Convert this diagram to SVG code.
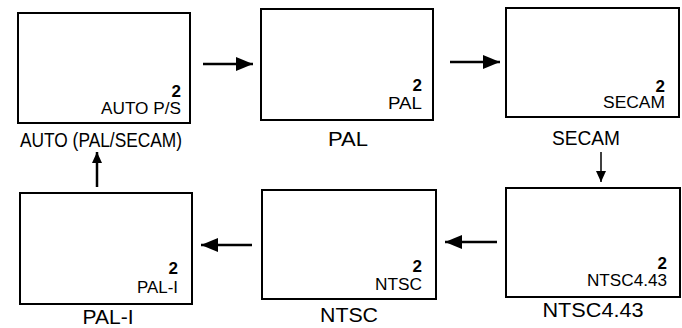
<svg xmlns="http://www.w3.org/2000/svg" width="682" height="328" viewBox="0 0 682 328">
<style>
.box{fill:#fff;stroke:#000;stroke-width:2}
.big{font-family:"Liberation Sans",Arial,sans-serif;font-size:20px;fill:#000;text-anchor:middle}
.num{font-family:"Liberation Sans",Arial,sans-serif;font-size:17px;font-weight:bold;fill:#000;text-anchor:end}
.sm{font-family:"Liberation Sans",Arial,sans-serif;font-size:16px;fill:#000;text-anchor:end}
.ln{stroke:#000;stroke-width:2.5;fill:none}
.thin{stroke:#000;stroke-width:1.5;fill:none}
</style>
<defs>
<marker id="ah" markerUnits="userSpaceOnUse" markerWidth="18" markerHeight="14" refX="17" refY="7" orient="auto"><path d="M0,0 L17,7 L0,14 Z" fill="#000"/></marker>
<marker id="ahs" markerUnits="userSpaceOnUse" markerWidth="12" markerHeight="10" refX="11" refY="5" orient="auto"><path d="M0,0 L11,5 L0,10 Z" fill="#000"/></marker>
</defs>
<rect width="682" height="328" fill="#fff"/>
<g id="auto">
<rect class="box" x="18" y="13" width="172" height="110"/>
<text class="num" x="181" y="97">2</text>
<text class="sm" x="181" y="114" textLength="80" lengthAdjust="spacingAndGlyphs">AUTO P/S</text>
<text class="big" x="101" y="147" textLength="162" lengthAdjust="spacingAndGlyphs">AUTO (PAL/SECAM)</text>
</g>
<g id="pal">
<rect class="box" x="261" y="9" width="172" height="111"/>
<text class="num" x="422" y="91">2</text>
<text class="sm" x="422" y="109" textLength="34" lengthAdjust="spacingAndGlyphs">PAL</text>
<text class="big" x="348" y="146" textLength="40" lengthAdjust="spacingAndGlyphs">PAL</text>
</g>
<g id="secam">
<rect class="box" x="506" y="8" width="173" height="109"/>
<text class="num" x="665" y="92">2</text>
<text class="sm" x="665" y="108" textLength="62" lengthAdjust="spacingAndGlyphs">SECAM</text>
<text class="big" x="586" y="145" textLength="68" lengthAdjust="spacingAndGlyphs">SECAM</text>
</g>
<g id="ntsc443">
<rect class="box" x="506" y="188" width="174" height="109"/>
<text class="num" x="667" y="269">2</text>
<text class="sm" x="667" y="286" textLength="80" lengthAdjust="spacingAndGlyphs">NTSC4.43</text>
<text class="big" x="593" y="317" textLength="101" lengthAdjust="spacingAndGlyphs">NTSC4.43</text>
</g>
<g id="ntsc">
<rect class="box" x="262" y="190" width="174" height="109"/>
<text class="num" x="422" y="272">2</text>
<text class="sm" x="422" y="290" textLength="47" lengthAdjust="spacingAndGlyphs">NTSC</text>
<text class="big" x="349" y="322" textLength="58" lengthAdjust="spacingAndGlyphs">NTSC</text>
</g>
<g id="pali">
<rect class="box" x="20" y="193" width="172" height="111"/>
<text class="num" x="178" y="274">2</text>
<text class="sm" x="178" y="293" textLength="41" lengthAdjust="spacingAndGlyphs">PAL-I</text>
<text class="big" x="108" y="324" textLength="51" lengthAdjust="spacingAndGlyphs">PAL-I</text>
</g>
<g id="connectors">
<line class="ln" x1="203" y1="64" x2="253" y2="64" marker-end="url(#ah)"/>
<line class="ln" x1="450" y1="62" x2="500" y2="62" marker-end="url(#ah)"/>
<line class="thin" x1="601" y1="152" x2="601" y2="182" marker-end="url(#ahs)"/>
<line class="ln" x1="497" y1="242" x2="445" y2="242" marker-end="url(#ah)"/>
<line class="ln" x1="252" y1="245" x2="201" y2="245" marker-end="url(#ah)"/>
<line class="ln" x1="97" y1="187" x2="97" y2="152" marker-end="url(#ahs)"/>
</g>
</svg>
